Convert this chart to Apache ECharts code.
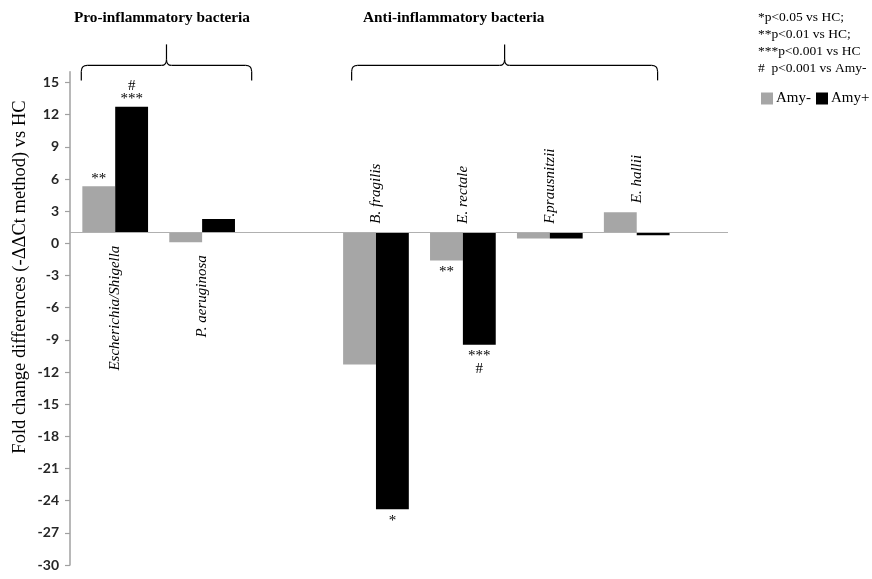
<!DOCTYPE html>
<html>
<head>
<meta charset="utf-8">
<script src="https://cdn.jsdelivr.net/npm/echarts@6/dist/echarts.min.js"></script>
<style>html,body{margin:0;padding:0;background:#fff;}#c{width:872px;height:579px;}</style>
</head>
<body>
<div id="c"></div>
<script>
// ---- data ----
const categories = ['Escherichia/Shigella', 'P. aeruginosa', '', 'B. fragilis', 'E. rectale', 'F.prausnitzii', 'E. hallii'];
const groupOf = ['pro', 'pro', '', 'anti', 'anti', 'anti', 'anti'];
const amyMinus = [5.33, 0.1, null, -11.3, -1.6, 0.45, 2.9];
const amyPlus = [12.75, 2.27, null, -24.8, -9.45, 0.45, 0.75];
const sigMinus = ['**', '', '', '', '**', '', ''];
const sigPlus = ['#\n***', '', '', '*', '***\n#', '', ''];
const baseline = 1;
const yTicks = [-30, -27, -24, -21, -18, -15, -12, -9, -6, -3, 0, 3, 6, 9, 12, 15];
const notes = ['*p<0.05 vs HC;', '**p<0.01 vs HC;', '***p<0.001 vs HC', '#  p<0.001 vs Amy-'];
const groups = [
  { name: 'Pro-inflammatory bacteria', from: -0.39, to: 1.57 },
  { name: 'Anti-inflammatory bacteria', from: 2.72, to: 6.24 }
];

const serif = '"Liberation Serif", "DejaVu Serif", serif';
const chart = echarts.init(document.getElementById('c'), null, { renderer: 'canvas' });

function barRender(side, values, sigs) {
  return function (params, api) {
    const i = api.value(0), v = api.value(1);
    if (v == null || isNaN(v)) return null;
    const w = api.size([1, 0])[0] * 0.378;
    const cx = api.coord([i, baseline])[0];
    const yb = api.coord([i, baseline])[1];
    const yv = api.coord([i, v])[1];
    const x0 = side < 0 ? cx - w : cx;
    const children = [{
      type: 'rect',
      shape: { x: x0, y: Math.min(yb, yv), width: w, height: Math.abs(yv - yb) },
      style: { fill: api.visual('color') }
    }];
    const s = sigs[params.dataIndex];
    if (s) {
      const up = v >= baseline;
      children.push({
        type: 'text',
        x: x0 + w / 2,
        y: up ? yv - 1 : yv + 5,
        style: {
          text: s, font: '15px ' + serif, fill: '#000',
          align: 'center', verticalAlign: up ? 'bottom' : 'top', lineHeight: 13
        }
      });
    }
    return { type: 'group', children: children };
  };
}

function labelRender(params, api) {
  const i = params.dataIndex;
  const name = categories[i];
  if (!name) return null;
  const a = amyMinus[i], b = amyPlus[i];
  let y, align;
  if (groupOf[i] === 'pro') {
    y = api.coord([i, Math.min(baseline, a, b)])[1] + 13;
    align = 'right';
  } else {
    y = api.coord([i, Math.max(baseline, a, b)])[1] - 9;
    align = 'left';
  }
  const x = api.coord([i, baseline])[0];
  return {
    type: 'text', x: x, y: y, rotation: Math.PI / 2,
    style: { text: name, font: 'italic 15px ' + serif, fill: '#000', align: align, verticalAlign: 'middle' }
  };
}

const option = {
  animation: false,
  backgroundColor: '#fff',
  grid: { left: 70, right: 144, top: 71.8, bottom: 14, containLabel: false },
  legend: {
    data: [{ name: 'Amy-', icon: 'rect' }, { name: 'Amy+', icon: 'rect' }],
    orient: 'horizontal',
    left: 761, top: 91, width: 130, padding: 0,
    itemWidth: 12, itemHeight: 12, itemGap: 5,
    textStyle: { fontFamily: serif, fontSize: 15, color: '#000', padding: [0, 0, 0, -2] },
    selectedMode: false
  },
  xAxis: { type: 'value', min: -0.52, max: 7.05, show: false },
  yAxis: {
    type: 'value', min: -30, max: 16,
    axisLine: { show: true, onZero: false, lineStyle: { color: '#a0a0a0', width: 1.5 } },
    axisTick: { show: true, length: 5, inside: false, customValues: yTicks, lineStyle: { color: '#a0a0a0', width: 1.2 } },
    axisLabel: { customValues: yTicks, margin: 11, fontFamily: 'Lato, "Open Sans", sans-serif', fontWeight: 'bold', fontSize: 14, color: '#262626' },
    splitLine: { show: false }
  },
  series: [
    {
      name: 'Amy-', type: 'custom', itemStyle: { color: '#a6a6a6' },
      renderItem: barRender(-1, amyMinus, sigMinus),
      data: categories.map((c, i) => [i, amyMinus[i] == null ? '-' : amyMinus[i]]),
      markLine: {
        silent: true, symbol: 'none', label: { show: false },
        lineStyle: { color: '#b0b0b0', width: 1.2, type: 'solid' },
        data: [{ yAxis: baseline }]
      }
    },
    {
      name: 'Amy+', type: 'custom', itemStyle: { color: '#000000' },
      renderItem: barRender(1, amyPlus, sigPlus),
      data: categories.map((c, i) => [i, amyPlus[i] == null ? '-' : amyPlus[i]])
    },
    {
      name: 'labels', type: 'custom', silent: true,
      renderItem: labelRender,
      data: categories.map((c, i) => [i, baseline])
    }
  ]
};
chart.setOption(option);

// decorations computed from the axes
const graphics = [];
const braceStyle = { stroke: '#000', lineWidth: 1.2, fill: null };
groups.forEach(g => {
  const pL = chart.convertToPixel({ gridIndex: 0 }, [g.from, 15.2]);
  const pR = chart.convertToPixel({ gridIndex: 0 }, [g.to, 15.2]);
  const L = pL[0], R = pR[0], M = (L + R) / 2, yb = pL[1];
  const yl = yb - 15, yt = yb - 36;
  const r = 6;
  const lines = [
    [L, yb, L, yl + r], [L + r, yl, M - 5, yl], [M, yl - 6, M, yt],
    [M + 5, yl, R - r, yl], [R, yl + r, R, yb]
  ];
  lines.forEach(l => graphics.push({ type: 'line', shape: { x1: l[0], y1: l[1], x2: l[2], y2: l[3] }, style: braceStyle }));
  const curves = [
    [L, yl + r, L, yl, L + r, yl],
    [M - 5, yl, M, yl, M, yl - 6],
    [M + 5, yl, M, yl, M, yl - 6],
    [R - r, yl, R, yl, R, yl + r]
  ];
  curves.forEach(c => graphics.push({
    type: 'bezierCurve',
    shape: { x1: c[0], y1: c[1], cpx1: c[2], cpy1: c[3], x2: c[4], y2: c[5] },
    style: braceStyle
  }));
});
graphics.push({
  type: 'text', left: 74, top: 11,
  style: { text: groups[0].name, font: 'bold 15.3px ' + serif, fill: '#000' }
});
graphics.push({
  type: 'text', left: 363, top: 11,
  style: { text: groups[1].name, font: 'bold 15.3px ' + serif, fill: '#000' }
});
graphics.push({
  type: 'text', left: 758, top: 9,
  style: { text: notes.join('\n'), font: '13.5px ' + serif, fill: '#000', lineHeight: 17 }
});
graphics.push({
  type: 'text', x: 20, y: 277, rotation: Math.PI / 2,
  style: { text: 'Fold change differences (-ΔΔCt method) vs HC', font: '18.5px ' + serif, fill: '#000', align: 'center', verticalAlign: 'middle' }
});
chart.setOption({ graphic: graphics });
</script>
</body>
</html>
